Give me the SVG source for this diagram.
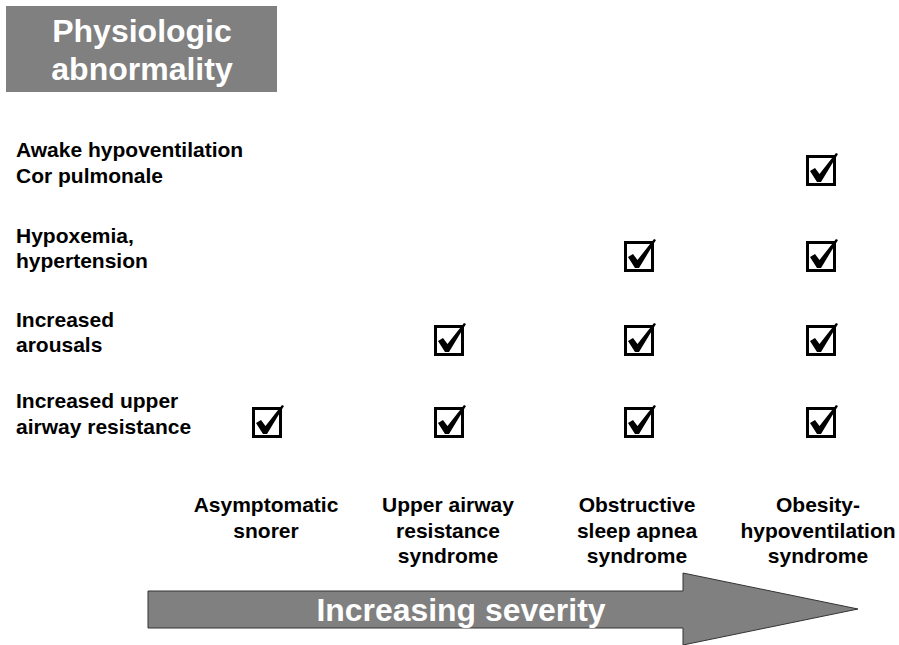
<svg xmlns="http://www.w3.org/2000/svg" width="899" height="645" viewBox="0 0 899 645">
<defs>
<style>
.t{font-family:"Liberation Sans",Arial,sans-serif;font-weight:bold;font-size:21px;fill:#000}
.c{text-anchor:middle}
.w{font-family:"Liberation Sans",Arial,sans-serif;font-weight:bold;fill:#fff;text-anchor:middle}
</style>
<g id="chk">
<rect x="1.5" y="1.5" width="27" height="28" fill="none" stroke="#000" stroke-width="3"/>
<polygon points="4,16 9,13 13.5,19 30,-2 32,-1 15,27 11,27" fill="#000"/>
</g>
</defs>
<rect width="899" height="645" fill="#fff"/>
<g id="title">
<rect x="6" y="6" width="271" height="86" fill="#808080"/>
<text class="w" x="142" y="42" font-size="32">Physiologic</text>
<text class="w" x="142" y="80" font-size="32">abnormality</text>
</g>
<g id="rows">
<text class="t" x="16" y="157">Awake hypoventilation</text>
<text class="t" x="16" y="183">Cor pulmonale</text>
<text class="t" x="16" y="243">Hypoxemia,</text>
<text class="t" x="16" y="268">hypertension</text>
<text class="t" x="16" y="327">Increased</text>
<text class="t" x="16" y="352">arousals</text>
<text class="t" x="16" y="408">Increased upper</text>
<text class="t" x="16" y="434">airway resistance</text>
</g>
<g id="checks">
<use href="#chk" x="806" y="155"/>
<use href="#chk" x="624" y="241"/>
<use href="#chk" x="806" y="241"/>
<use href="#chk" x="434" y="325"/>
<use href="#chk" x="624" y="325"/>
<use href="#chk" x="806" y="325"/>
<use href="#chk" x="252" y="407"/>
<use href="#chk" x="434" y="407"/>
<use href="#chk" x="624" y="407"/>
<use href="#chk" x="806" y="407"/>
</g>
<g id="columns">
<text class="t c" x="266" y="512">Asymptomatic</text>
<text class="t c" x="266" y="538">snorer</text>
<text class="t c" x="448" y="512">Upper airway</text>
<text class="t c" x="448" y="538">resistance</text>
<text class="t c" x="448" y="563">syndrome</text>
<text class="t c" x="637" y="512">Obstructive</text>
<text class="t c" x="637" y="538">sleep apnea</text>
<text class="t c" x="637" y="563">syndrome</text>
<text class="t c" x="818" y="512">Obesity-</text>
<text class="t c" x="818" y="538">hypoventilation</text>
<text class="t c" x="818" y="563">syndrome</text>
</g>
<g id="arrow">
<polygon points="148,591 683,591 683,573 858,609 683,645 683,628 148,628" fill="#808080" stroke="#333" stroke-width="1"/>
<text class="w" x="461" y="621" font-size="31" textLength="289" lengthAdjust="spacingAndGlyphs">Increasing severity</text>
</g>
</svg>
